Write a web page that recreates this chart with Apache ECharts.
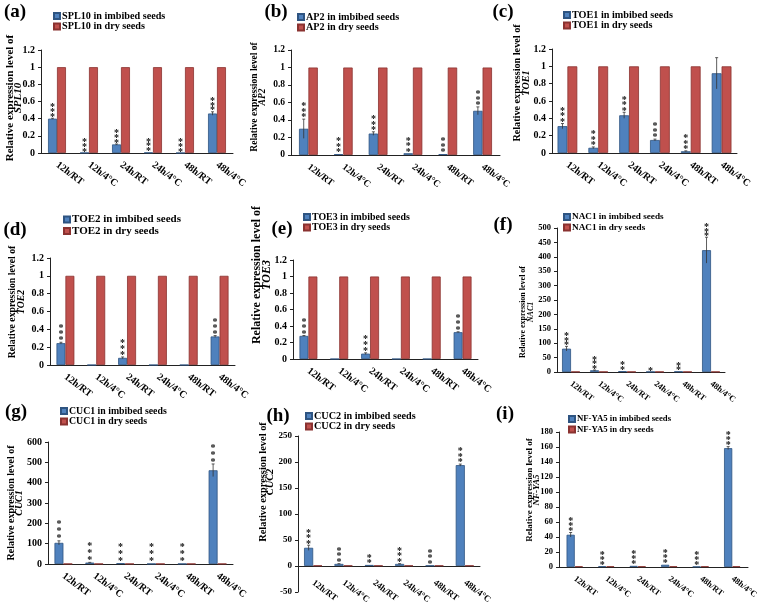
<!DOCTYPE html>
<html>
<head>
<meta charset="utf-8">
<script src="https://cdn.jsdelivr.net/npm/echarts@6/dist/echarts.min.js"></script>
<style>
html, body { margin: 0; padding: 0; background: #fff; }
#chart { width: 760px; height: 607px; }
</style>
</head>
<body>
<div id="chart"></div>
<script>
const categories = ['12h/RT', '12h/4°C', '24h/RT', '24h/4°C', '48h/RT', '48h/4°C'];

// relative expression in imbibed seeds, its error, and number of significance stars
const spl10Imbibed = [0.40, 0.002, 0.10, 0.005, 0.001, 0.46];
const spl10Err = [0.005, 0, 0.005, 0, 0, 0.02];
const spl10Stars = [3, 3, 3, 3, 3, 3];
const spl10Dry = [1, 1, 1, 1, 1, 1];

const ap2Imbibed = [0.30, 0.01, 0.245, 0.02, 0.01, 0.505];
const ap2Err = [0.11, 0, 0.02, 0, 0, 0.045];
const ap2Stars = [3, 3, 3, 3, 3, 3];
const ap2Dry = [1, 1, 1, 1, 1, 1];

const toe1Imbibed = [0.31, 0.06, 0.435, 0.15, 0.02, 0.92];
const toe1Err = [0.03, 0.01, 0.035, 0.01, 0.005, 0.18];
const toe1Stars = [3, 3, 3, 3, 3, 0];
const toe1Dry = [1, 1, 1, 1, 1, 1];

const toe2Imbibed = [0.245, 0, 0.08, 0, 0, 0.32];
const toe2Err = [0.01, 0, 0.01, 0, 0, 0.01];
const toe2Stars = [3, 0, 3, 0, 0, 3];
const toe2Dry = [1, 1, 1, 1, 1, 1];

const toe3Imbibed = [0.28, 0, 0.065, 0, 0, 0.325];
const toe3Err = [0.005, 0, 0.01, 0, 0, 0.005];
const toe3Stars = [3, 0, 3, 0, 0, 3];
const toe3Dry = [1, 1, 1, 1, 1, 1];

const nac1Imbibed = [81, 6, 3, 1, 2, 423];
const nac1Err = [8, 1, 0, 0, 0, 45];
const nac1Stars = [3, 3, 2, 1, 2, 3];
const nac1Dry = [1, 1, 1, 1, 1, 1];

const cuc1Imbibed = [104, 7, 4, 1, 1, 461];
const cuc1Err = [10, 1, 0, 0, 0, 31];
const cuc1Stars = [3, 3, 3, 3, 3, 3];
const cuc1Dry = [1, 1, 1, 1, 1, 1];

const cuc2Imbibed = [35, 4, 2, 4, 1, 194];
const cuc2Err = [5, 0.5, 0, 0.5, 0, 2];
const cuc2Stars = [3, 3, 2, 3, 3, 3];
const cuc2Dry = [1, 1, 1, 1, 1, 1];

const nfya5Imbibed = [43, 1, 1.5, 3, 0.5, 158.5];
const nfya5Err = [3, 0, 0, 0, 0, 2];
const nfya5Stars = [3, 3, 3, 3, 3, 3];
const nfya5Dry = [1, 1, 1, 1, 1, 1];

const FONT = "'Liberation Serif', 'Times New Roman', serif";
const BLUE = '#4F81BD';
const RED = '#C0504D';

// one entry per sub-figure: grid box [left, top, width, height], legend corner,
// panel tag centre, axis title (x of both lines, centre y)
const panels = [
  { tag: '(a)', gene: 'SPL10', imb: spl10Imbibed, err: spl10Err, dry: spl10Dry, stars: spl10Stars,
    min: 0, max: 1.2, step: 0.2, grid: [41, 50, 192, 103], legend: [53, 11], tagAt: [15, 12],
    title: [10, 18, 98], titleSize: 11, font: 10, legendSize: 10.2, bw: 0.28, starGap: 4.8, margin: 11 },
  { tag: '(b)', gene: 'AP2', imb: ap2Imbibed, err: ap2Err, dry: ap2Dry, stars: ap2Stars,
    min: 0, max: 1.2, step: 0.2, grid: [291, 50, 209, 105], legend: [297, 12], tagAt: [276, 12],
    title: [255, 263, 97], titleSize: 9.5, font: 9.5, legendSize: 10.2, bw: 0.27, starGap: 5.5, margin: 11 },
  { tag: '(c)', gene: 'TOE1', imb: toe1Imbibed, err: toe1Err, dry: toe1Dry, stars: toe1Stars,
    min: 0, max: 1.2, step: 0.2, grid: [552, 49, 185, 104], legend: [563, 10], tagAt: [503, 12],
    title: [517, 526, 83], titleSize: 10.2, font: 10, legendSize: 10.2, bw: 0.32, starGap: 5.5, margin: 11 },
  { tag: '(d)', gene: 'TOE2', imb: toe2Imbibed, err: toe2Err, dry: toe2Dry, stars: toe2Stars,
    min: 0, max: 1.2, step: 0.2, grid: [50, 258, 185, 107], legend: [63, 214], tagAt: [15, 230],
    title: [12, 21, 302], titleSize: 9.8, font: 10, legendSize: 11, bw: 0.29, starGap: 6, margin: 11 },
  { tag: '(e)', gene: 'TOE3', imb: toe3Imbibed, err: toe3Err, dry: toe3Dry, stars: toe3Stars,
    min: 0, max: 1.2, step: 0.2, grid: [293, 260, 185, 99], legend: [303, 212], tagAt: [282, 229],
    title: [257, 267, 275], titleSize: 12, font: 10, legendSize: 9.9, bw: 0.29, starGap: 6, margin: 11 },
  { tag: '(f)', gene: 'NAC1', imb: nac1Imbibed, err: nac1Err, dry: nac1Dry, stars: nac1Stars,
    min: 0, max: 500, step: 50, grid: [557, 228, 168, 144], legend: [563, 212], tagAt: [503, 225],
    title: [523, 531, 312], titleSize: 8, font: 8.5, legendSize: 9.2, bw: 0.32, starGap: 4.5, margin: 11 },
  { tag: '(g)', gene: 'CUC1', imb: cuc1Imbibed, err: cuc1Err, dry: cuc1Dry, stars: cuc1Stars,
    min: 0, max: 600, step: 100, grid: [48, 442, 185, 122], legend: [60, 406], tagAt: [16, 412],
    title: [11, 19, 503], titleSize: 10, font: 10, legendSize: 9.8, bw: 0.29, starGap: 7, margin: 11 },
  { tag: '(h)', gene: 'CUC2', imb: cuc2Imbibed, err: cuc2Err, dry: cuc2Dry, stars: cuc2Stars,
    min: -50, max: 250, step: 50, grid: [298, 436, 182, 156], legend: [305, 411], tagAt: [278, 416],
    title: [263, 270, 482], titleSize: 10.4, font: 9, legendSize: 10.2, bw: 0.30, starGap: 5.5, margin: -10 },
  { tag: '(i)', gene: 'NF-YA5', imb: nfya5Imbibed, err: nfya5Err, dry: nfya5Dry, stars: nfya5Stars,
    min: 0, max: 180, step: 20, grid: [559, 432, 189, 135], legend: [568, 414], tagAt: [505, 414],
    title: [530, 537, 490], titleSize: 9, font: 8.5, legendSize: 8.7, bw: 0.26, starGap: 5, margin: 11 }
];

function errorBars(p) {
  return function (params, api) {
    const k = api.value(0), v = api.value(1), e = api.value(2), n = api.value(3);
    const band = api.size([1, 0])[0];
    const x = api.coord([k, v])[0] - band * p.bw / 2;
    const top = api.coord([k, v + e])[1];
    const bot = api.coord([k, Math.max(v - e, 0)])[1];
    const kids = [];
    if (e > 0) {
      const line = { stroke: '#333', lineWidth: 0.8 };
      kids.push({ type: 'line', shape: { x1: x, y1: top, x2: x, y2: bot }, style: line });
      kids.push({ type: 'line', shape: { x1: x - 1.5, y1: top, x2: x + 1.5, y2: top }, style: line });
    }
    for (let s = 0; s < n; s++) {
      kids.push({
        type: 'text', x: x, y: top + 1.5 - p.starGap * (s + 0.5),
        style: { text: '*', font: `bold 10px ${FONT}`, fill: '#111', align: 'center', verticalAlign: 'middle' }
      });
    }
    return { type: 'group', children: kids };
  };
}

const grid = [], xAxis = [], yAxis = [], series = [], legend = [], graphic = [];
panels.forEach((p, i) => {
  const text = { fontFamily: FONT, fontWeight: 'bold', color: '#000' };
  grid.push({ left: p.grid[0], top: p.grid[1], width: p.grid[2], height: p.grid[3], outerBoundsMode: 'none' });
  xAxis.push({
    type: 'category', gridIndex: i, data: categories,
    axisLine: { lineStyle: { color: '#222', width: 1 } },
    axisTick: { length: 4, lineStyle: { color: '#222' } },
    axisLabel: { ...text, interval: 0, rotate: -37, margin: p.margin, fontSize: p.font }
  });
  yAxis.push({
    type: 'value', gridIndex: i, min: p.min, max: p.max, interval: p.step,
    splitLine: { show: false },
    axisLine: { show: true, lineStyle: { color: '#222', width: 1 } },
    axisTick: { show: true, length: 3, lineStyle: { color: '#222' } },
    axisLabel: { ...text, fontSize: p.font, margin: 6, formatter: (v) => String(Math.round(v * 10) / 10) }
  });
  const imbName = `${p.gene} in imbibed seeds`;
  const dryName = `${p.gene} in dry seeds`;
  series.push({
    type: 'bar', name: imbName, xAxisIndex: i, yAxisIndex: i, data: p.imb,
    barWidth: (p.bw * 100) + '%', barGap: '0%',
    itemStyle: { color: BLUE, borderColor: '#2E5481', borderWidth: 0.8 }
  });
  series.push({
    type: 'bar', name: dryName, xAxisIndex: i, yAxisIndex: i, data: p.dry,
    barWidth: (p.bw * 100) + '%', barGap: '0%',
    itemStyle: { color: RED, borderColor: '#8A3230', borderWidth: 0.8 }
  });
  series.push({
    type: 'custom', name: 'err' + i, xAxisIndex: i, yAxisIndex: i, z: 5, silent: true, clip: false,
    data: p.imb.map((v, k) => [k, v, p.err[k], p.stars[k]]),
    encode: { x: 0, y: 1 },
    renderItem: errorBars(p)
  });
  legend.push({
    data: [imbName, dryName], left: p.legend[0], top: p.legend[1], orient: 'vertical',
    padding: 0, itemGap: 0.5, itemWidth: 6, itemHeight: 6, icon: 'rect', selectedMode: false,
    textStyle: { ...text, fontSize: p.legendSize, lineHeight: 10, padding: [0, 0, 0, -3] }
  });
  graphic.push({
    type: 'text', x: p.tagAt[0], y: p.tagAt[1],
    style: { text: p.tag, font: `bold 19px ${FONT}`, fill: '#000', align: 'center', verticalAlign: 'middle' }
  });
  graphic.push({
    type: 'text', x: p.title[0], y: p.title[2], rotation: Math.PI / 2,
    style: { text: 'Relative expression level of', font: `bold ${p.titleSize}px ${FONT}`, fill: '#000', align: 'center', verticalAlign: 'middle' }
  });
  graphic.push({
    type: 'text', x: p.title[1], y: p.title[2], rotation: Math.PI / 2,
    style: { text: p.gene, font: `italic bold ${p.titleSize}px ${FONT}`, fill: '#000', align: 'center', verticalAlign: 'middle' }
  });
});

const chart = echarts.init(document.getElementById('chart'), null, { renderer: 'canvas' });
chart.setOption({
  animation: false,
  backgroundColor: '#fff',
  grid, xAxis, yAxis, series, legend, graphic
});
</script>
</body>
</html>
